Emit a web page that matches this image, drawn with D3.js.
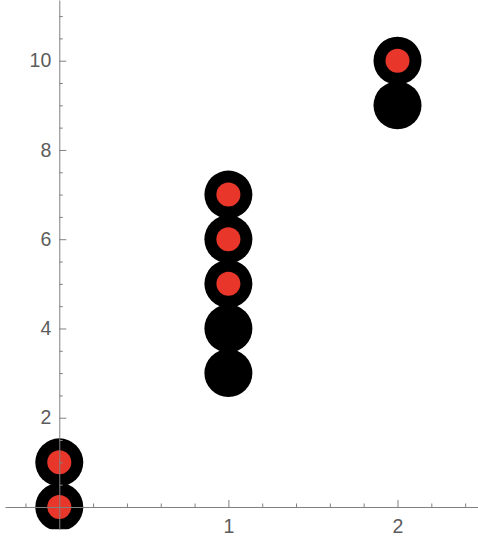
<!DOCTYPE html>
<html>
<head>
<meta charset="utf-8">
<script src="https://cdn.jsdelivr.net/npm/d3@7"></script>
<style>
  body { margin: 0; background: #fff; }
  svg { display: block; }
  .axis text { font-family: "Liberation Sans", Arial, sans-serif; font-size: 19.5px; fill: #5c5c5c; }
  .axis path, .axis line { stroke: #808080; stroke-width: 1; }
</style>
</head>
<body>
<div id="chart"></div>
<script>
// point data
var xValues = [0, 0, 1, 1, 1, 1, 1, 2, 2];
var yValues = [0, 1, 3, 4, 5, 6, 7, 9, 10];
var hasCenter = [true, true, false, false, true, true, true, false, true];

// tick labels
var xTicks = [1, 2];
var yTicks = [2, 4, 6, 8, 10];
var xMinor = [-0.2, 0.2, 0.4, 0.6, 0.8, 1.2, 1.4, 1.6, 1.8, 2.2, 2.4];
var yMinor = [0.5, 1, 1.5, 2.5, 3, 3.5, 4.5, 5, 5.5, 6.5, 7, 7.5, 8.5, 9, 9.5, 10.5, 11];

var width = 478, height = 554;
var plotBottom = 529.3;

var svg = d3.select("#chart").append("svg")
    .attr("width", width)
    .attr("height", height);

var x = d3.scaleLinear().domain([-0.321, 2.476]).range([5, 478]);
var y = d3.scaleLinear().domain([-0.5, 11.36]).range([plotBottom, 0]);

svg.append("clipPath").attr("id", "clip")
  .append("rect").attr("x", 0).attr("y", 0).attr("width", width).attr("height", plotBottom);

var points = xValues.map(function (d, i) {
    return { x: d, y: yValues[i], center: hasCenter[i] };
});

var g = svg.append("g").attr("clip-path", "url(#clip)");

g.selectAll("circle.outer")
    .data(points)
    .enter()
    .append("circle")
    .attr("class", "outer")
    .attr("cx", function (d) { return x(d.x); })
    .attr("cy", function (d) { return y(d.y); })
    .attr("r", 24)
    .attr("fill", "#000");

g.selectAll("circle.inner")
    .data(points.filter(function (d) { return d.center; }))
    .enter()
    .append("circle")
    .attr("class", "inner")
    .attr("cx", function (d) { return x(d.x); })
    .attr("cy", function (d) { return y(d.y); })
    .attr("r", 12)
    .attr("fill", "#e8372a");

// x axis (ticks point up, labels below)
svg.append("g")
    .attr("class", "axis")
    .attr("transform", "translate(0," + y(0) + ")")
    .call(d3.axisBottom(x).tickValues(xMinor).tickSize(-3.5).tickSizeOuter(0).tickFormat(""));
svg.append("g")
    .attr("class", "axis")
    .attr("transform", "translate(0," + y(0) + ")")
    .call(d3.axisBottom(x).tickValues(xTicks).tickSize(-7).tickSizeOuter(0).tickPadding(12).tickFormat(d3.format("d")))
    .select(".domain").remove();

// y axis (ticks point right, labels left)
svg.append("g")
    .attr("class", "axis")
    .attr("transform", "translate(" + x(0) + ",0)")
    .call(d3.axisLeft(y).tickValues(yMinor).tickSize(-3.5).tickSizeOuter(0).tickFormat(""));
svg.append("g")
    .attr("class", "axis")
    .attr("transform", "translate(" + x(0) + ",0)")
    .call(d3.axisLeft(y).tickValues(yTicks).tickSize(-7).tickSizeOuter(0).tickPadding(8).tickFormat(d3.format("d")))
    .select(".domain").remove();
</script>
</body>
</html>
